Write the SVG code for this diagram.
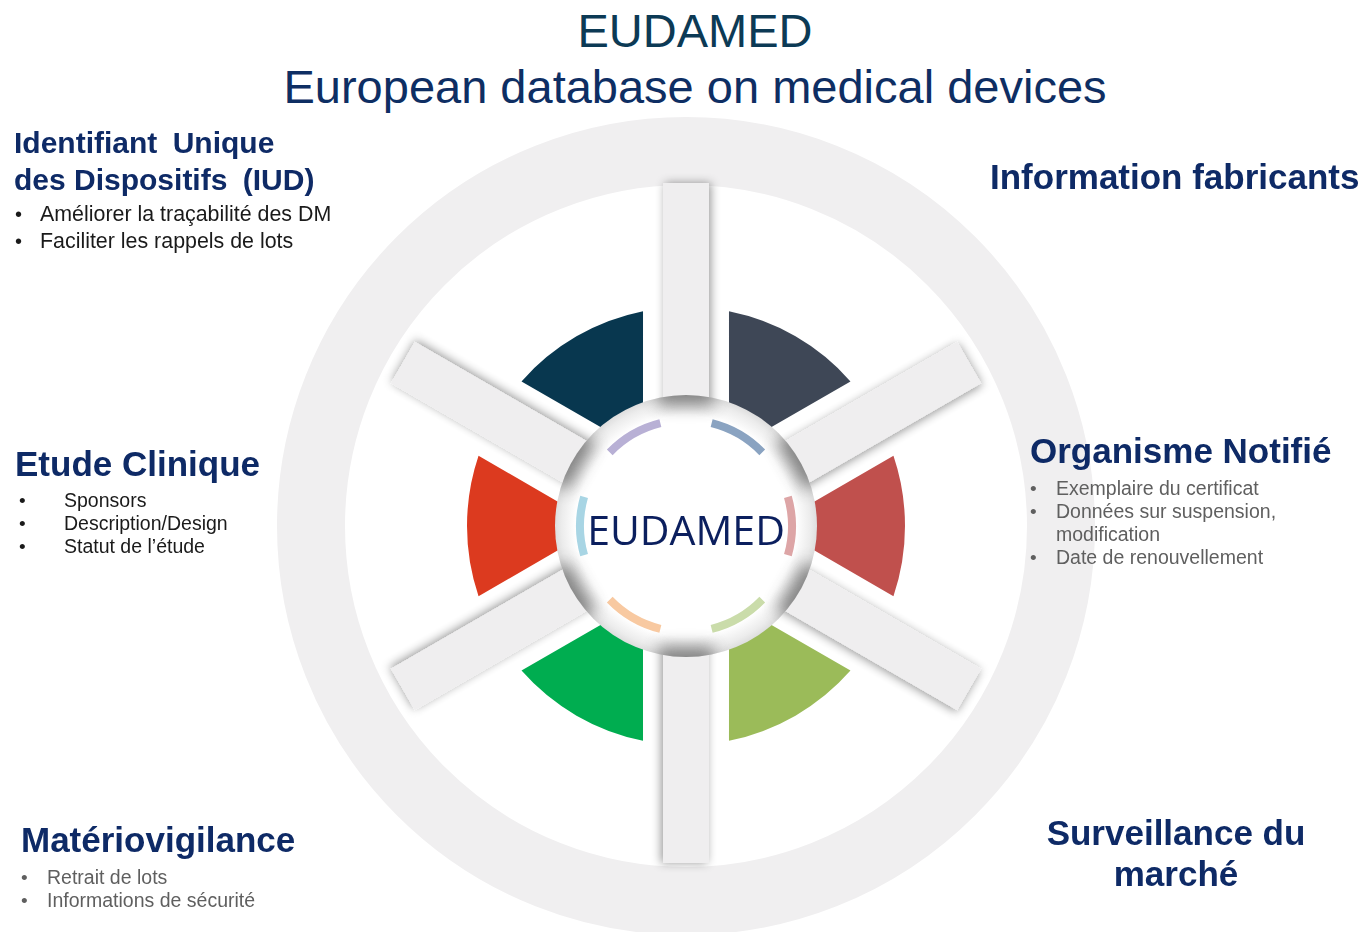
<svg xmlns="http://www.w3.org/2000/svg" width="1366" height="932" viewBox="0 0 1366 932">
<style>
.h{font-family:"Liberation Sans",Arial,sans-serif;font-weight:bold;fill:#0e2a66}
.b{font-family:"Liberation Sans",Arial,sans-serif;fill:#1a1a1a}
.g{font-family:"Liberation Sans",Arial,sans-serif;fill:#5f5f5f}
.spoke{fill:#efeeef}
.arc{fill:none;stroke-width:8}
</style>
<defs>
<filter id="sh" x="-30%" y="-80%" width="160%" height="260%">
<feDropShadow dx="0" dy="2" stdDeviation="5" flood-color="#000" flood-opacity="0.4"/>
</filter>
<filter id="blur" x="-50%" y="-50%" width="200%" height="200%">
<feGaussianBlur stdDeviation="8"/>
</filter>
<radialGradient id="disk" cx="0.5" cy="0.5" r="0.5">
<stop offset="0" stop-color="#ffffff"/>
<stop offset="0.84" stop-color="#ffffff"/>
<stop offset="0.95" stop-color="#ececec"/>
<stop offset="1" stop-color="#dedede"/>
</radialGradient>
<clipPath id="dc"><circle cx="0" cy="0" r="131"/></clipPath>
<path id="sec" d="M125.91 -23.04 L207.46 -70.15 A219 219 0 0 1 207.46 70.15 L125.91 23.04 A128 128 0 0 0 125.91 -23.04 Z"/>
<path id="parc" d="M101.89 -29.22 A106 106 0 0 1 101.89 29.22"/>
</defs>
<rect width="1366" height="932" fill="#ffffff"/>

<g id="title">
<text x="695" y="47" text-anchor="middle" font-family="Liberation Sans, Arial, sans-serif" font-size="47" fill="#0c3a55">EUDAMED</text>
<text x="695" y="103" text-anchor="middle" font-family="Liberation Sans, Arial, sans-serif" font-size="47" fill="#0e2e63">European database on medical devices</text>
</g>

<g id="wheel" transform="translate(686,526)">
<circle id="ring" cx="0" cy="0" r="375" fill="none" stroke="#f0eff0" stroke-width="68"/>
<g id="sectors">
<use href="#sec" transform="rotate(-120)" fill="#08374f"/>
<use href="#sec" transform="rotate(-60)" fill="#3e4756"/>
<use href="#sec" fill="#c0504d"/>
<use href="#sec" transform="rotate(60)" fill="#9bbb59"/>
<use href="#sec" transform="rotate(120)" fill="#00ad50"/>
<use href="#sec" transform="rotate(180)" fill="#dc3a1f"/>
</g>
<g id="spokes">
<g transform="rotate(-90)"><rect class="spoke" x="110" y="-23" width="233" height="46" filter="url(#sh)"/></g>
<g transform="rotate(90)"><rect class="spoke" x="110" y="-23" width="227" height="46" filter="url(#sh)"/></g>
<g transform="rotate(-30)"><rect class="spoke" x="110" y="-24" width="217" height="48" filter="url(#sh)"/></g>
<g transform="rotate(30)"><rect class="spoke" x="110" y="-24" width="217" height="48" filter="url(#sh)"/></g>
<g transform="rotate(150)"><rect class="spoke" x="110" y="-24" width="217" height="48" filter="url(#sh)"/></g>
<g transform="rotate(-150)"><rect class="spoke" x="110" y="-24" width="217" height="48" filter="url(#sh)"/></g>
</g>
<g id="hub">
<circle cx="0" cy="0" r="131" fill="url(#disk)"/>
<g clip-path="url(#dc)">
<g filter="url(#blur)" fill="#7c7c7c" opacity="0.9">
<rect x="120" y="-28" width="30" height="56" transform="rotate(-90)"/>
<rect x="120" y="-28" width="30" height="56" transform="rotate(90)"/>
<rect x="120" y="-28" width="30" height="56" transform="rotate(-30)"/>
<rect x="120" y="-28" width="30" height="56" transform="rotate(30)"/>
<rect x="120" y="-28" width="30" height="56" transform="rotate(150)"/>
<rect x="120" y="-28" width="30" height="56" transform="rotate(-150)"/>
</g>
</g>
</g>
<g id="arcs">
<use href="#parc" class="arc" transform="rotate(-120)" stroke="#b8b0d5"/>
<use href="#parc" class="arc" transform="rotate(-60)" stroke="#8aa3c1"/>
<use href="#parc" class="arc" stroke="#dda5a6"/>
<use href="#parc" class="arc" transform="rotate(60)" stroke="#cadcaa"/>
<use href="#parc" class="arc" transform="rotate(120)" stroke="#f8c9a1"/>
<use href="#parc" class="arc" transform="rotate(180)" stroke="#a8d5e4"/>
</g>
<text x="0" y="19" text-anchor="middle" font-family="Open Sans, sans-serif" font-size="41" font-weight="500" fill="#0b1f5e">EUDAMED</text>
</g>

<g id="iud">
<text class="h" x="14" y="153" font-size="30">Identifiant<tspan dx="7"> Unique</tspan></text>
<text class="h" x="14" y="190" font-size="30">des Dispositifs<tspan dx="7"> (IUD)</tspan></text>
<text class="b" x="15" y="221" font-size="20">•</text>
<text class="b" x="40" y="221" font-size="21.4">Améliorer la traçabilité des DM</text>
<text class="b" x="15" y="248" font-size="20">•</text>
<text class="b" x="40" y="248" font-size="21.4">Faciliter les rappels de lots</text>
</g>

<g id="info-fab">
<text class="h" x="990" y="189" font-size="35">Information fabricants</text>
</g>

<g id="etude">
<text class="h" x="15" y="476" font-size="35">Etude Clinique</text>
<text class="b" x="19" y="507" font-size="19">•</text>
<text class="b" x="64" y="507" font-size="19.5">Sponsors</text>
<text class="b" x="19" y="530" font-size="19">•</text>
<text class="b" x="64" y="530" font-size="19.5">Description/Design</text>
<text class="b" x="19" y="553" font-size="19">•</text>
<text class="b" x="64" y="553" font-size="19.5">Statut de l’étude</text>
</g>

<g id="organisme">
<text class="h" x="1030" y="463" font-size="35">Organisme Notifié</text>
<text class="g" x="1030" y="495" font-size="19">•</text>
<text class="g" x="1056" y="495" font-size="19.5">Exemplaire du certificat</text>
<text class="g" x="1030" y="518" font-size="19">•</text>
<text class="g" x="1056" y="518" font-size="19.5">Données sur suspension,</text>
<text class="g" x="1056" y="541" font-size="19.5">modification</text>
<text class="g" x="1030" y="564" font-size="19">•</text>
<text class="g" x="1056" y="564" font-size="19.5">Date de renouvellement</text>
</g>

<g id="materio">
<text class="h" x="21" y="852" font-size="35">Matériovigilance</text>
<text class="g" x="21" y="884" font-size="19">•</text>
<text class="g" x="47" y="884" font-size="19.5">Retrait de lots</text>
<text class="g" x="21" y="907" font-size="19">•</text>
<text class="g" x="47" y="907" font-size="19.5">Informations de sécurité</text>
</g>

<g id="surveillance">
<text class="h" x="1176" y="845" font-size="35" text-anchor="middle">Surveillance du</text>
<text class="h" x="1176" y="886" font-size="35" text-anchor="middle">marché</text>
</g>
</svg>
